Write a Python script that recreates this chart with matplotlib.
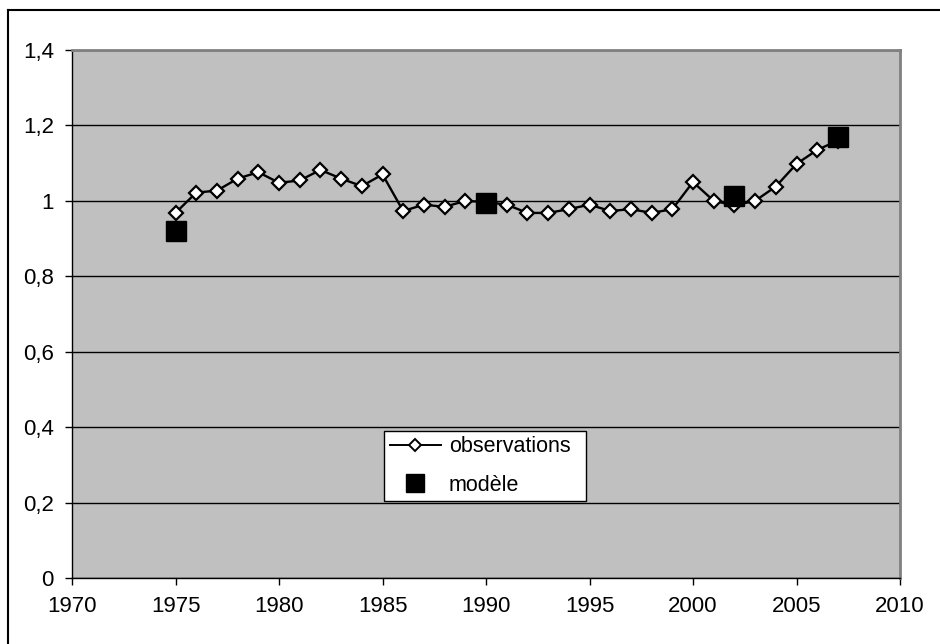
import matplotlib.pyplot as plt
from matplotlib.lines import Line2D
from matplotlib.ticker import FuncFormatter

plt.rcParams['font.family'] = ['Liberation Sans', 'DejaVu Sans']

# observed series, one point per year
obs_years = list(range(1975, 2008))
obs_values = [0.968, 1.022, 1.027, 1.059, 1.076, 1.048, 1.054, 1.082, 1.059, 1.039,
              1.070, 0.973, 0.990, 0.984, 1.000, 0.997, 0.990, 0.968, 0.968, 0.978,
              0.990, 0.973, 0.978, 0.968, 0.978, 1.050, 1.000, 0.988, 1.000, 1.038,
              1.098, 1.135, 1.160]

# model points
model_years = [1975, 1990, 2002, 2007]
model_values = [0.919, 0.995, 1.012, 1.168]

fig = plt.figure(figsize=(9.4, 6.44), dpi=100)
ax = fig.add_axes([72 / 940, 1 - 578 / 644, 828 / 940, 528 / 644])
ax.set_facecolor('#c0c0c0')

ax.plot(obs_years, obs_values, color='black', lw=1.7, marker='D',
        markersize=7.3, markerfacecolor='white', markeredgecolor='black',
        markeredgewidth=1.6, zorder=3, label='observations')
ax.plot(model_years, model_values, ls='none', marker='s', markersize=14.5,
        color='black', zorder=4, label='modèle')

ax.set_xlim(1970, 2010)
ax.set_ylim(0, 1.4)
ax.set_xticks(range(1970, 2011, 5))
ax.set_yticks([0, 0.2, 0.4, 0.6, 0.8, 1.0, 1.2, 1.4])
ax.yaxis.set_major_formatter(FuncFormatter(lambda v, p: ('%g' % round(v, 1)).replace('.', ',')))
ax.yaxis.grid(True, color='black', lw=1)
ax.set_axisbelow(True)

for s in ['top', 'right']:
    ax.spines[s].set_color('#808080')
    ax.spines[s].set_linewidth(2)
for s in ['left', 'bottom']:
    ax.spines[s].set_color('black')
    ax.spines[s].set_linewidth(1)
ax.tick_params(direction='out', length=5, width=1, labelsize=16, pad=8)

handles = [Line2D([], [], color='black', lw=1.4, marker='D', markersize=6.5,
                  markerfacecolor='white', markeredgecolor='black', markeredgewidth=1.4),
           Line2D([], [], ls='none', marker='s', markersize=13, color='black')]
leg = ax.legend(handles, ['observations', 'modèle'], loc='lower left',
                bbox_to_anchor=(0.377, 0.146, 0.244, 0.146), mode='expand',
                fontsize=15.5, frameon=True, fancybox=False, framealpha=1,
                edgecolor='black', borderaxespad=0, handlelength=2.4,
                handletextpad=0.35, labelspacing=0.8, borderpad=0.25)
leg.get_frame().set_linewidth(1)

# chart frame (left and top edges only visible)
fig.add_artist(Line2D([8 / 940, 8 / 940], [0, 1 - 10 / 644], color='black', lw=1.5))
fig.add_artist(Line2D([8 / 940, 1], [1 - 10 / 644, 1 - 10 / 644], color='black', lw=1.5))

fig.savefig('out.png', dpi=100)
